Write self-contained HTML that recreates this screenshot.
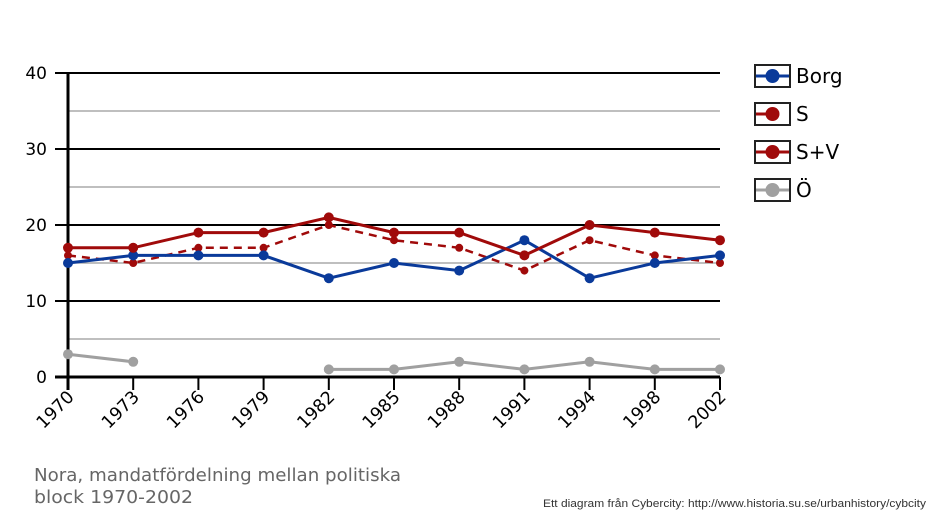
<!DOCTYPE html>
<html><head><style>body{margin:0;background:#fff}svg{display:block}text{font-family:"DejaVu Sans","Liberation Sans",sans-serif}</style></head><body>
<svg width="938" height="521" viewBox="0 0 938 521" xmlns="http://www.w3.org/2000/svg">
<g stroke="#999" stroke-width="1.2">
<line x1="68" x2="720" y1="339" y2="339"/><line x1="68" x2="720" y1="263" y2="263"/><line x1="68" x2="720" y1="187" y2="187"/><line x1="68" x2="720" y1="111" y2="111"/>
</g>
<g stroke="#000" stroke-width="2">
<line x1="55" x2="720" y1="301" y2="301"/><line x1="55" x2="720" y1="225" y2="225"/><line x1="55" x2="720" y1="149" y2="149"/><line x1="55" x2="720" y1="73" y2="73"/>
</g>
<line x1="55" x2="720" y1="377" y2="377" stroke="#000" stroke-width="3"/>
<line x1="68" x2="68" y1="72" y2="390" stroke="#000" stroke-width="3"/>
<g stroke="#000" stroke-width="2">
<line x1="133.2" x2="133.2" y1="377" y2="390"/><line x1="198.4" x2="198.4" y1="377" y2="390"/><line x1="263.6" x2="263.6" y1="377" y2="390"/><line x1="328.8" x2="328.8" y1="377" y2="390"/><line x1="394" x2="394" y1="377" y2="390"/><line x1="459.2" x2="459.2" y1="377" y2="390"/><line x1="524.4" x2="524.4" y1="377" y2="390"/><line x1="589.6" x2="589.6" y1="377" y2="390"/><line x1="654.8" x2="654.8" y1="377" y2="390"/><line x1="720" x2="720" y1="377" y2="390"/>
</g>
<g font-size="17" text-anchor="end" fill="#000">
<text x="47" y="383">0</text><text x="47" y="307">10</text><text x="47" y="231">20</text><text x="47" y="155">30</text><text x="47" y="79">40</text>
</g>
<g font-size="17.5" text-anchor="end" fill="#000">
<text transform="translate(75,398) rotate(-45)">1970</text>
<text transform="translate(140.2,398) rotate(-45)">1973</text>
<text transform="translate(205.4,398) rotate(-45)">1976</text>
<text transform="translate(270.6,398) rotate(-45)">1979</text>
<text transform="translate(335.8,398) rotate(-45)">1982</text>
<text transform="translate(401,398) rotate(-45)">1985</text>
<text transform="translate(466.2,398) rotate(-45)">1988</text>
<text transform="translate(531.4,398) rotate(-45)">1991</text>
<text transform="translate(596.6,398) rotate(-45)">1994</text>
<text transform="translate(661.8,398) rotate(-45)">1998</text>
<text transform="translate(727,398) rotate(-45)">2002</text>
</g>
<g stroke="#a0a0a0" stroke-width="3" fill="none"><polyline points="68,354.2 133.2,361.8"/><polyline points="328.8,369.4 394,369.4 459.2,361.8 524.4,369.4 589.6,361.8 654.8,369.4 720,369.4"/></g>
<g fill="#a0a0a0"><circle cx="68" cy="354.2" r="5"/><circle cx="133.2" cy="361.8" r="5"/><circle cx="328.8" cy="369.4" r="5"/><circle cx="394" cy="369.4" r="5"/><circle cx="459.2" cy="361.8" r="5"/><circle cx="524.4" cy="369.4" r="5"/><circle cx="589.6" cy="361.8" r="5"/><circle cx="654.8" cy="369.4" r="5"/><circle cx="720" cy="369.4" r="5"/></g>
<polyline fill="none" stroke="#a00a0a" stroke-width="2.5" stroke-dasharray="8,6" points="68,255.4 133.2,263 198.4,247.8 263.6,247.8 328.8,225 394,240.2 459.2,247.8 524.4,270.6 589.6,240.2 654.8,255.4 720,263"/>
<g fill="#a00a0a"><circle cx="68" cy="255.4" r="4"/><circle cx="133.2" cy="263" r="4"/><circle cx="198.4" cy="247.8" r="4"/><circle cx="263.6" cy="247.8" r="4"/><circle cx="328.8" cy="225" r="4"/><circle cx="394" cy="240.2" r="4"/><circle cx="459.2" cy="247.8" r="4"/><circle cx="524.4" cy="270.6" r="4"/><circle cx="589.6" cy="240.2" r="4"/><circle cx="654.8" cy="255.4" r="4"/><circle cx="720" cy="263" r="4"/></g>
<polyline fill="none" stroke="#0a3a9a" stroke-width="3" points="68,263 133.2,255.4 198.4,255.4 263.6,255.4 328.8,278.2 394,263 459.2,270.6 524.4,240.2 589.6,278.2 654.8,263 720,255.4"/>
<g fill="#0a3a9a"><circle cx="68" cy="263" r="5"/><circle cx="133.2" cy="255.4" r="5"/><circle cx="198.4" cy="255.4" r="5"/><circle cx="263.6" cy="255.4" r="5"/><circle cx="328.8" cy="278.2" r="5"/><circle cx="394" cy="263" r="5"/><circle cx="459.2" cy="270.6" r="5"/><circle cx="524.4" cy="240.2" r="5"/><circle cx="589.6" cy="278.2" r="5"/><circle cx="654.8" cy="263" r="5"/><circle cx="720" cy="255.4" r="5"/></g>
<polyline fill="none" stroke="#a00a0a" stroke-width="3" points="68,247.8 133.2,247.8 198.4,232.6 263.6,232.6 328.8,217.4 394,232.6 459.2,232.6 524.4,255.4 589.6,225 654.8,232.6 720,240.2"/>
<g fill="#a00a0a"><circle cx="68" cy="247.8" r="5"/><circle cx="133.2" cy="247.8" r="5"/><circle cx="198.4" cy="232.6" r="5"/><circle cx="263.6" cy="232.6" r="5"/><circle cx="328.8" cy="217.4" r="5"/><circle cx="394" cy="232.6" r="5"/><circle cx="459.2" cy="232.6" r="5"/><circle cx="524.4" cy="255.4" r="5"/><circle cx="589.6" cy="225" r="5"/><circle cx="654.8" cy="232.6" r="5"/><circle cx="720" cy="240.2" r="5"/></g>
<g stroke="#222" stroke-width="2" fill="#fff">
<rect x="755" y="65" width="35" height="22"/><rect x="755" y="103" width="35" height="22"/><rect x="755" y="141" width="35" height="22"/><rect x="755" y="179" width="35" height="22"/>
</g>
<line x1="756" x2="789" y1="76" y2="76" stroke="#0a3a9a" stroke-width="3"/><circle cx="772.5" cy="76" r="7" fill="#0a3a9a"/>
<line x1="756" x2="772" y1="114" y2="114" stroke="#a00a0a" stroke-width="3"/><circle cx="772.5" cy="114" r="7" fill="#a00a0a"/>
<line x1="756" x2="789" y1="152" y2="152" stroke="#a00a0a" stroke-width="3"/><circle cx="772.5" cy="152" r="7" fill="#a00a0a"/>
<line x1="756" x2="789" y1="190" y2="190" stroke="#a0a0a0" stroke-width="3"/><circle cx="772.5" cy="190" r="7" fill="#a0a0a0"/>
<g font-size="20" fill="#000"><text x="796" y="83">Borg</text><text x="796" y="121">S</text><text x="796" y="159">S+V</text><text x="796" y="197">Ö</text></g>
<g font-size="18" fill="#666"><text x="34" y="481" textLength="367" lengthAdjust="spacingAndGlyphs">Nora, mandatfördelning mellan politiska</text><text x="34" y="503" textLength="159" lengthAdjust="spacingAndGlyphs">block 1970-2002</text></g>
<text x="926" y="507" font-size="11" fill="#333" text-anchor="end" textLength="383" lengthAdjust="spacingAndGlyphs" style="font-family:'Liberation Sans',sans-serif">Ett diagram från Cybercity: http://www.historia.su.se/urbanhistory/cybcity</text>
</svg>
</body></html>
